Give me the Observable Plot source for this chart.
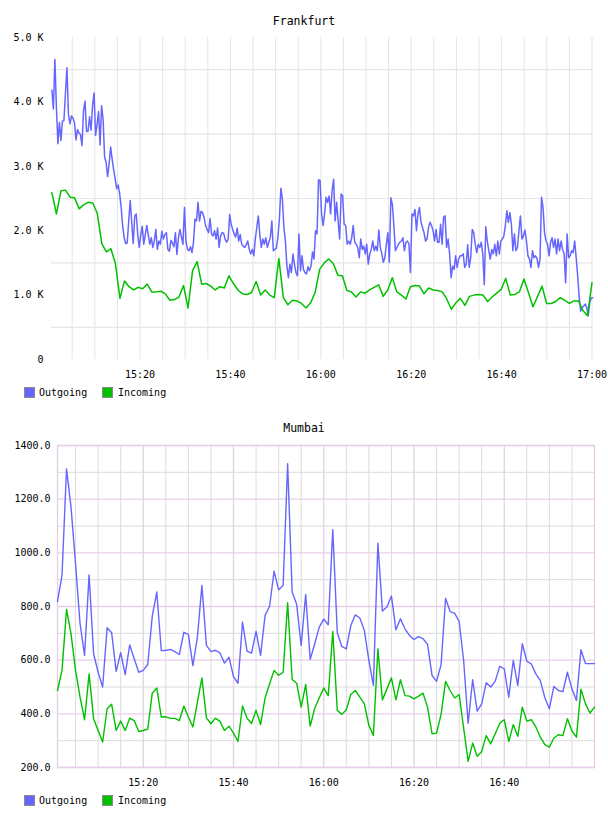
<!DOCTYPE html>
<html>
<head>
<meta charset="utf-8">
<script src="https://cdn.jsdelivr.net/npm/d3@7"></script>
<script src="https://cdn.jsdelivr.net/npm/@observablehq/plot@0.6"></script>
<style>
  html, body { margin: 0; padding: 0; background: #fff; }
  #page { position: relative; width: 608px; height: 816px; overflow: hidden; font-family: "DejaVu Sans Mono", monospace; color: #000; }
  .title { position: absolute; left: 0; width: 608px; text-align: center; font-size: 11.5px; line-height: 14px; }
  .chart { position: absolute; left: 0; }
  .legend { position: absolute; left: 0; height: 12px; font-size: 10px; }
  .swatch { position: absolute; top: 0; width: 11px; height: 11px; box-sizing: border-box; border: 1px solid #8a8a8a; }
  .label { position: absolute; top: 0; line-height: 11px; }
</style>
</head>
<body>
<div id="page"></div>
<script>
// Frankfurt traffic, thousands per sample
const fraOutgoingK = [
  4.18, 3.89, 4.66, 3.92, 3.35, 3.68, 3.40, 3.70, 3.71, 4.13,
  4.53, 3.81, 3.66, 3.78, 3.75, 3.68, 3.41, 3.57, 3.52, 3.49, 3.32,
  3.86, 4.01, 3.54, 3.54, 3.77, 3.56, 3.94, 4.14, 3.48, 3.65,
  3.85, 3.33, 3.94, 3.73, 3.14, 3.06, 2.84, 3.04, 3.30, 3.11, 2.95,
  2.81, 2.65, 2.71, 2.57, 2.36, 2.07, 1.89, 1.80, 1.81, 2.15,
  2.47, 2.13, 1.80, 2.23, 2.26, 1.94, 1.74, 1.93, 2.07, 1.79,
  1.94, 2.08, 1.93, 1.79, 1.89, 1.74, 1.84, 2.02, 1.71, 1.84, 1.79,
  1.99, 1.87, 1.94, 1.97, 1.71, 1.68, 1.85, 1.81, 1.75, 1.97,
  1.63, 1.89, 2.02, 1.90, 1.79, 2.36, 1.84, 1.71,
  1.69, 1.75, 1.66, 1.82, 2.18, 2.15, 2.44, 2.15, 2.30, 2.28,
  2.21, 2.08, 2.02, 1.97, 2.19, 1.95, 1.92, 2.00, 1.87, 2.04,
  1.74, 1.92, 1.97, 1.96, 1.87, 1.82, 1.87, 2.25, 2.10, 2.02,
  1.95, 1.90, 2.04, 1.84, 1.94, 1.79, 1.76, 1.74, 1.78, 1.84,
  1.71, 1.64, 1.71, 1.61, 1.87, 2.05, 2.23, 1.94, 1.74, 1.87,
  1.79, 1.89, 1.74, 1.82, 1.90, 2.15, 1.69, 1.71, 1.73, 1.89,
  2.18, 2.66, 2.49, 2.05, 1.84, 1.45, 1.27, 1.48, 1.35, 1.64,
  1.48, 1.35, 1.30, 1.95, 1.38, 1.61, 1.40, 1.35, 1.33, 1.44,
  1.38, 1.45, 1.67, 1.56, 2.00, 1.95, 2.79, 2.78, 2.26, 2.08,
  2.26, 2.52, 2.44,
  2.54, 2.26, 2.62, 2.80, 2.15, 2.44, 2.15, 1.87, 2.57, 2.54,
  2.10, 2.08, 1.79, 1.84, 1.79, 1.89, 2.08, 1.82, 1.79, 1.74,
  1.58, 1.87, 1.71, 1.76, 1.64, 1.79, 1.48, 1.64, 1.71, 1.84,
  1.69, 1.76, 1.69, 2.01, 1.74, 1.64, 1.51, 1.58, 1.79, 1.97,
  1.51, 2.51, 2.41, 2.08, 1.69, 1.74, 1.79, 1.82, 1.84, 1.89,
  1.69, 1.82, 1.84, 1.79, 1.35, 2.26, 2.23, 2.33, 2.00, 2.26,
  2.36, 2.13, 2.05, 1.97, 1.84, 1.87, 2.05, 2.13, 2.08, 2.00,
  1.84, 2.02, 1.82, 1.82, 2.10, 1.79, 2.21, 2.23, 1.74, 1.87,
  1.64, 1.27, 1.45, 1.40, 1.61, 1.43, 1.56, 1.61, 1.61, 1.64,
  1.43, 1.48,
  1.78, 1.43, 1.58, 2.02, 1.97, 1.79, 1.66, 1.79, 1.74, 1.82,
  1.64, 1.16, 2.06, 1.84, 1.69, 1.56, 1.71, 1.64, 1.79, 1.61,
  1.84, 1.64, 1.84, 1.87, 1.92, 2.08, 2.31, 2.13, 2.28, 2.10,
  1.69, 1.95, 1.69, 1.74, 2.00, 2.23, 1.87, 1.92, 2.01, 1.84,
  1.61, 1.56, 1.43, 1.69, 1.58, 1.61, 1.57, 1.43, 1.56, 2.52,
  2.36, 1.97, 1.84, 1.79, 1.61, 1.82, 1.89, 1.74, 1.87, 1.64,
  1.87, 1.69, 1.84, 1.71, 1.64, 1.19, 1.95, 1.58, 1.61, 1.69,
  1.66, 1.84, 1.58, 1.30, 0.96, 0.75, 0.81, 0.83, 0.86, 0.81,
  0.68, 0.88, 0.96, 0.96
];
const fraIncomingK = [
  2.59, 2.26, 2.62, 2.63, 2.52, 2.51, 2.34, 2.40, 2.44, 2.43,
  2.27, 1.80, 1.67, 1.72, 1.49, 0.95, 1.22, 1.13, 1.08, 1.12,
  1.10, 1.17, 1.05, 1.05, 1.06, 1.02, 0.92, 0.93, 0.97, 1.15, 0.80,
  1.38, 1.52, 1.17, 1.18, 1.14, 1.08, 1.13, 1.11, 1.30, 1.18,
  1.08, 1.02, 1.01, 1.04, 1.21, 1.00, 1.08, 1.00, 0.96, 1.57,
  0.96, 0.85, 0.92, 0.91, 0.87, 0.80, 0.88, 1.04, 1.40, 1.50, 1.56,
  1.49, 1.31, 1.30, 1.07, 1.05, 0.97, 1.05, 1.03, 1.08, 1.12,
  1.16, 0.98, 1.08, 1.27, 1.05, 1.00, 0.94, 1.13, 1.15, 1.14,
  1.02, 1.11, 1.08, 1.07, 1.05, 0.94, 0.78, 0.88, 0.95, 0.84,
  0.98, 1.00, 1.01, 1.00, 0.90, 0.97, 1.03, 1.09, 1.26, 1.00,
  1.01, 1.05, 1.25, 1.04, 0.82, 0.98, 1.14, 0.87, 0.87, 0.90,
  0.96, 0.92, 0.87, 0.91, 0.91, 0.76, 0.68, 1.19
];

// Mumbai traffic, one sample a minute
const mumOutgoing = [
  819, 916, 1313, 1170, 959, 736, 618, 918, 624, 555,
  500, 721, 702, 558, 628, 546, 657, 605, 555, 562,
  584, 764, 854, 636, 636, 640, 632, 621, 704, 696,
  580, 686, 878, 655, 632, 637, 627, 589, 611, 539,
  514, 742, 634, 626, 707, 618, 767, 801, 932, 862,
  878, 1332, 854, 808, 655, 845, 603, 661, 723, 753,
  732, 1086, 702, 651, 642, 729, 769, 757, 711, 599,
  506, 1036, 783, 798, 839, 713, 754, 717, 692, 677,
  688, 680, 659, 543, 521, 583, 831, 781, 775, 744,
  599, 365, 527, 410, 437, 516, 500, 522, 577, 568,
  462, 599, 506, 661, 596, 586, 549, 524, 460, 419,
  502, 487, 483, 555, 493, 450, 639, 587, 587, 587
];
const mumIncoming = [
  487, 562, 789, 698, 562, 462, 378, 549, 382, 338,
  295, 419, 436, 338, 373, 338, 384, 375, 334, 338,
  343, 477, 496, 388, 389, 383, 383, 375, 429, 388,
  351, 444, 534, 385, 363, 384, 372, 338, 354, 328,
  297, 429, 384, 364, 413, 360, 459, 512, 562, 544,
  554, 814, 528, 514, 425, 510, 354, 421, 459, 496,
  468, 707, 413, 398, 415, 472, 487, 462, 437, 357,
  319, 642, 452, 493, 534, 452, 527, 468, 466, 456,
  466, 477, 425, 326, 328, 398, 521, 487, 459, 472,
  348, 223, 291, 242, 260, 319, 288, 326, 365, 378,
  297, 360, 316, 425, 373, 378, 351, 313, 285, 276,
  310, 322, 319, 382, 336, 313, 492, 437, 403, 425
];

// Sampling times
const fraOutgoingStart = "15:00:30", fraOutgoingStepSeconds = 20;
const fraIncomingStart = "15:00:30", fraIncomingEnd = "17:00:00";
const mumStart = "15:01:00", mumStepSeconds = 60;

// Axes
const fraWindow = ["15:00:25", "17:00:20"];
const mumWindow = ["15:01:00", "17:00:00"];
const fraTimeTicks = ["15:20", "15:40", "16:00", "16:20", "16:40", "17:00"];
const mumTimeTicks = ["15:20", "15:40", "16:00", "16:20", "16:40"];
const fraValueTicks = [0, 1, 2, 3, 4, 5];
const fraValueGrid = [0.5, 1.5, 2.5, 3.5, 4.5];
const mumValueTicks = [200, 400, 600, 800, 1000, 1200, 1400];
const mumValueMinor = [300, 500, 700, 900, 1100, 1300];

const seriesNames = ["Outgoing", "Incoming"];
const seriesColors = ["#6666ff", "#00c000"];

const at = s => {
  const [h, m, sec] = s.split(":").map(Number);
  return new Date(Date.UTC(2020, 0, 1, h, m, sec || 0));
};
const stepped = (values, start, stepSeconds) =>
  values.map((v, i) => ({t: new Date(+at(start) + i * stepSeconds * 1000), v}));
const spanned = (values, start, end) => {
  const a = +at(start), b = +at(end);
  return values.map((v, i) => ({t: new Date(a + (b - a) * i / (values.length - 1)), v}));
};
const fiveMinuteGrid = (w) => d3.utcMinute.every(5).range(at(w[0]), new Date(+at(w[1]) + 1));
const hhmm = d3.utcFormat("%H:%M");
const font = "'DejaVu Sans Mono', monospace";

const page = document.getElementById("page");

function addTitle(text, top) {
  const el = document.createElement("div");
  el.className = "title";
  el.style.top = top + "px";
  el.textContent = text;
  page.appendChild(el);
}
function addLegend(top) {
  const lg = document.createElement("div");
  lg.className = "legend";
  lg.style.top = top + "px";
  const swatchX = [24, 102], textX = [39, 118];
  seriesNames.forEach((name, i) => {
    const sw = document.createElement("div");
    sw.className = "swatch";
    sw.style.left = swatchX[i] + "px";
    sw.style.background = seriesColors[i];
    const lb = document.createElement("div");
    lb.className = "label";
    lb.style.left = textX[i] + "px";
    lb.textContent = name;
    lg.appendChild(sw);
    lg.appendChild(lb);
  });
  page.appendChild(lg);
}
function addChart(svg, top) {
  const holder = document.createElement("div");
  holder.className = "chart";
  holder.style.top = top + "px";
  holder.appendChild(svg);
  page.appendChild(holder);
}

// Frankfurt
const fraOut = stepped(fraOutgoingK, fraOutgoingStart, fraOutgoingStepSeconds);
const fraIn = spanned(fraIncomingK, fraIncomingStart, fraIncomingEnd);
const fraPlot = Plot.plot({
  width: 608,
  height: 380,
  marginTop: 37,
  marginBottom: 21,
  marginLeft: 51,
  marginRight: 15,
  style: {fontFamily: font, fontSize: "10px", color: "#000", background: "transparent", overflow: "visible"},
  x: {type: "utc", domain: fraWindow.map(at), ticks: fraTimeTicks.map(at), tickFormat: hhmm, tickSize: 0, tickPadding: 11, label: null},
  y: {domain: [0, 5], ticks: fraValueTicks, tickFormat: d => d === 0 ? "0" : d.toFixed(1) + " K", tickSize: 0, tickPadding: 8, label: null},
  marks: [
    Plot.ruleX(fiveMinuteGrid(["15:05:00", "17:00:00"]), {stroke: "#e4e4e4", strokeWidth: 1}),
    Plot.ruleY(fraValueGrid, {stroke: "#e6e6e6", strokeWidth: 1.2}),
    Plot.line(fraOut, {x: "t", y: "v", stroke: seriesColors[0], strokeWidth: 1.5}),
    Plot.line(fraIn, {x: "t", y: "v", stroke: seriesColors[1], strokeWidth: 1.5})
  ]
});

// Mumbai
const mumOut = stepped(mumOutgoing, mumStart, mumStepSeconds);
const mumIn = stepped(mumIncoming, mumStart, mumStepSeconds);
const mumMajorTimes = mumTimeTicks.map(at);
const mumMinorTimes = fiveMinuteGrid(["15:05:00", "16:55:00"]).filter(d => !mumMajorTimes.some(m => +m === +d));
const gridMajor = "#e6cfe6", gridMinor = "#dcdcdc";
const mumPlot = Plot.plot({
  width: 608,
  height: 380,
  marginTop: 37,
  marginBottom: 21,
  marginLeft: 57,
  marginRight: 14,
  style: {fontFamily: font, fontSize: "10px", color: "#000", background: "transparent", overflow: "visible"},
  x: {type: "utc", domain: mumWindow.map(at), ticks: mumMajorTimes, tickFormat: hhmm, tickSize: 0, tickPadding: 11, label: null},
  y: {domain: [200, 1400], ticks: mumValueTicks, tickFormat: d => d.toFixed(1), tickSize: 0, tickPadding: 7, label: null},
  marks: [
    Plot.ruleX(mumMinorTimes, {stroke: gridMinor, strokeWidth: 1}),
    Plot.ruleY(mumValueMinor, {stroke: gridMinor, strokeWidth: 1}),
    Plot.ruleX(mumMajorTimes, {stroke: gridMajor, strokeWidth: 1.3}),
    Plot.ruleY(mumValueTicks, {stroke: gridMajor, strokeWidth: 1.3}),
    Plot.frame({stroke: gridMajor, strokeWidth: 1.3}),
    Plot.line(mumOut, {x: "t", y: "v", stroke: seriesColors[0], strokeWidth: 1.4}),
    Plot.line(mumIn, {x: "t", y: "v", stroke: seriesColors[1], strokeWidth: 1.4})
  ]
});

addChart(fraPlot, 0);
addChart(mumPlot, 408);
addTitle("Frankfurt", 14);
addTitle("Mumbai", 421);
addLegend(387);
addLegend(795);
</script>
</body>
</html>
